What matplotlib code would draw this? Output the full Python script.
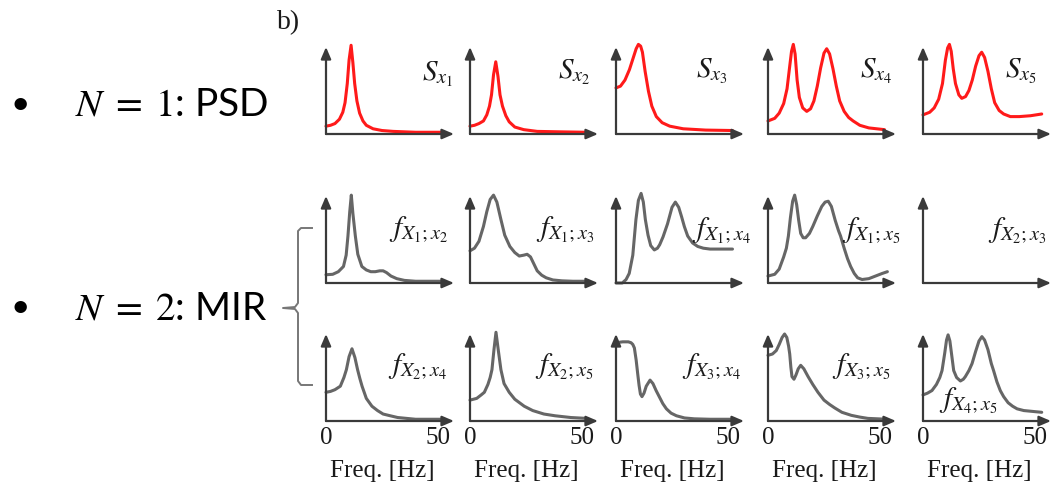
import matplotlib
matplotlib.use('Agg')
import matplotlib.pyplot as plt
from matplotlib.lines import Line2D

W, H, DPI = 1051, 486, 100

# --------------------- curves ---------------------
# x in Hz, y as a fraction of the axis height (1.0 = tip of the y arrow)
s1_hz = [0, 2, 4, 6, 7.5, 8.5, 9.5, 10.3, 11.2, 12.0, 12.8, 13.8, 15, 16.5, 18, 21, 25, 30, 40, 52]
s1_val = [0.09, 0.10, 0.12, 0.17, 0.25, 0.36, 0.58, 0.85, 1.02, 0.82, 0.58, 0.38, 0.24, 0.15, 0.10, 0.06, 0.04, 0.03, 0.02, 0.02]

s2_hz = [0, 2, 4, 6, 7.5, 8.7, 9.6, 10.5, 11.5, 12.5, 13.4, 14.5, 16, 17.5, 20, 24, 30, 40, 52]
s2_val = [0.09, 0.10, 0.12, 0.15, 0.22, 0.32, 0.45, 0.68, 0.83, 0.66, 0.45, 0.32, 0.21, 0.14, 0.08, 0.05, 0.03, 0.025, 0.02]

s3_hz = [0, 2, 4, 6, 8, 9, 10, 11, 11.8, 13, 14.5, 16, 18, 20.6, 24, 30, 40, 52]
s3_val = [0.53, 0.55, 0.62, 0.74, 0.90, 0.98, 1.03, 1.01, 0.94, 0.72, 0.49, 0.32, 0.20, 0.13, 0.09, 0.06, 0.045, 0.04]

s4_hz = [0, 3, 5, 7, 8.5, 9.7, 10.5, 11.3, 12.1, 13, 14, 15.5, 17.3, 19, 20.5, 22, 23.5, 25, 26.2,
         27.5, 29, 30.5, 32, 34, 36, 38, 41, 45, 52]
s4_val = [0.15, 0.18, 0.24, 0.35, 0.52, 0.78, 0.95, 1.03, 0.92, 0.62, 0.42, 0.30, 0.26, 0.29, 0.38, 0.55,
          0.76, 0.93, 0.98, 0.92, 0.75, 0.55, 0.38, 0.26, 0.19, 0.15, 0.10, 0.07, 0.05]

s5_hz = [0, 3, 5, 7, 8.7, 10, 11, 11.8, 12.6, 13.5, 14.5, 16, 17.3, 19, 20.5, 22, 23.5, 25, 26.2,
         27.5, 29, 30.5, 32, 34, 36, 39, 43, 48, 53]
s5_val = [0.22, 0.25, 0.30, 0.40, 0.58, 0.85, 0.99, 1.03, 0.95, 0.75, 0.58, 0.45, 0.41, 0.43, 0.50, 0.62,
          0.78, 0.90, 0.94, 0.88, 0.72, 0.52, 0.36, 0.27, 0.23, 0.20, 0.20, 0.21, 0.23]

f12_hz = [0, 3, 5.5, 7.8, 9, 9.8, 10.6, 11.3, 12, 13.1, 14.2, 16, 18, 20, 22, 24, 25.5, 27, 29, 31.6,
          35, 40, 46, 52]
f12_val = [0.095, 0.10, 0.13, 0.19, 0.32, 0.54, 0.82, 1.01, 0.80, 0.54, 0.33, 0.19, 0.15, 0.13, 0.13,
           0.14, 0.14, 0.12, 0.08, 0.05, 0.03, 0.02, 0.02, 0.02]

f13_hz = [0, 2, 4, 6, 7.5, 9, 10.5, 12, 13.8, 15.5, 17.8, 20, 22, 24, 25.5, 27, 28.5, 30, 32, 34, 37,
          41, 46, 53]
f13_val = [0.37, 0.40, 0.48, 0.65, 0.82, 0.96, 1.01, 0.93, 0.73, 0.55, 0.42, 0.35, 0.31, 0.32, 0.33,
           0.30, 0.22, 0.14, 0.09, 0.06, 0.035, 0.025, 0.02, 0.02]

f14_hz = [0, 2.8, 4.5, 5.9, 7.5, 8.9, 10, 11.2, 12.2, 13.1, 14.3, 15.5, 17.1, 18.5, 19.5, 21, 23, 25,
          26.5, 28, 29.3, 30.5, 32, 34.2, 36.5, 39, 42, 46, 52]
f14_val = [0, 0, 0.04, 0.11, 0.32, 0.73, 0.95, 1.03, 0.93, 0.73, 0.55, 0.43, 0.38, 0.40, 0.44, 0.53,
           0.68, 0.87, 0.93, 0.87, 0.76, 0.65, 0.54, 0.46, 0.42, 0.40, 0.39, 0.39, 0.39]

f15_hz = [0, 3, 5, 7, 8.2, 9.1, 10, 11, 11.9, 12.8, 13.7, 14.6, 15.7, 16.8, 18.5, 20, 22, 24, 25.5,
          26.9, 28.3, 30, 31.5, 32.4, 34, 35.5, 36.9, 38.5, 40, 42, 45, 48, 51, 53.3]
f15_val = [0.08, 0.10, 0.16, 0.30, 0.40, 0.54, 0.75, 0.94, 1.01, 0.90, 0.72, 0.57, 0.52, 0.52, 0.57,
           0.65, 0.77, 0.88, 0.93, 0.94, 0.88, 0.72, 0.60, 0.54, 0.40, 0.28, 0.19, 0.11, 0.06, 0.04,
           0.05, 0.08, 0.11, 0.13]

f23_hz = []
f23_val = []

f24_hz = [0, 2, 4, 6.4, 8, 9.1, 10.3, 11.6, 12.9, 14.1, 15.1, 16.1, 18, 20.5, 23, 25.5, 28.7, 32, 36,
          40, 46, 53]
f24_val = [0.33, 0.34, 0.36, 0.40, 0.50, 0.59, 0.74, 0.83, 0.73, 0.59, 0.49, 0.40, 0.26, 0.17, 0.12,
           0.08, 0.06, 0.04, 0.03, 0.02, 0.02, 0.02]

f25_hz = [0, 3, 5, 6.4, 8, 9, 9.8, 10.7, 11.6, 12.6, 13.8, 15.2, 17.5, 20, 24.2, 28, 33, 38, 45, 52]
f25_val = [0.24, 0.26, 0.30, 0.33, 0.42, 0.50, 0.59, 0.82, 1.02, 0.82, 0.59, 0.43, 0.33, 0.25, 0.17,
           0.12, 0.08, 0.06, 0.04, 0.03]

f34_hz = [0, 3, 5.5, 6.7, 7.5, 8.2, 9, 9.7, 10.3, 10.9, 11.6, 12.5, 13.5, 15.2, 16.5, 17.9, 19.5, 20.9,
          22.5, 24.6, 27, 30.6, 35, 42, 53]
f34_val = [0.90, 0.91, 0.91, 0.90, 0.88, 0.84, 0.70, 0.54, 0.41, 0.31, 0.28, 0.32, 0.40, 0.47, 0.43,
           0.35, 0.27, 0.20, 0.14, 0.09, 0.06, 0.035, 0.025, 0.02, 0.02]

f35_hz = [0, 2, 3.7, 5, 6.3, 7.4, 8.4, 9.2, 9.7, 10.2, 10.7, 11.6, 12.5, 13.5, 14.6, 16, 17.9, 20,
          22.3, 25, 27.5, 29.8, 33, 37.2, 41, 44.6, 49, 53]
f35_val = [0.755, 0.77, 0.81, 0.88, 0.96, 1.0, 0.96, 0.86, 0.77, 0.62, 0.51, 0.48, 0.53, 0.60, 0.64,
           0.60, 0.51, 0.42, 0.33, 0.24, 0.19, 0.15, 0.10, 0.065, 0.045, 0.03, 0.025, 0.02]

f45_hz = [0, 2, 4, 6, 7.5, 8.5, 9.7, 10.5, 11.2, 12, 12.8, 13.7, 15, 16.7, 18, 18.9, 20.5, 21.9, 23.5,
          25, 26.3, 27.5, 29, 30.5, 31.5, 33, 34.5, 36, 38, 40, 42, 45, 49, 53]
f45_val = [0.30, 0.32, 0.35, 0.42, 0.50, 0.58, 0.78, 0.93, 0.99, 0.92, 0.76, 0.58, 0.50, 0.46, 0.48,
           0.51, 0.58, 0.66, 0.80, 0.92, 0.97, 0.93, 0.82, 0.66, 0.58, 0.45, 0.35, 0.28, 0.21, 0.17,
           0.14, 0.12, 0.11, 0.10]

panel_labels = [
    [r'$S_{x_1}$', r'$S_{x_2}$', r'$S_{x_3}$', r'$S_{x_4}$', r'$S_{x_5}$'],
    [r'$f_{X_1;x_2}$', r'$f_{X_1;x_3}$', r'$f_{X_1;x_4}$', r'$f_{X_1;x_5}$', r'$f_{X_2;x_3}$'],
    [r'$f_{X_2;x_4}$', r'$f_{X_2;x_5}$', r'$f_{X_3;x_4}$', r'$f_{X_3;x_5}$', r'$f_{X_4;x_5}$'],
]
curves = [
    [(s1_hz, s1_val), (s2_hz, s2_val), (s3_hz, s3_val), (s4_hz, s4_val), (s5_hz, s5_val)],
    [(f12_hz, f12_val), (f13_hz, f13_val), (f14_hz, f14_val), (f15_hz, f15_val), (f23_hz, f23_val)],
    [(f24_hz, f24_val), (f25_hz, f25_val), (f34_hz, f34_val), (f35_hz, f35_val), (f45_hz, f45_val)],
]
tick_hz = [0, 50]
tick_labels = ['0', '50']
xlabel = 'Freq. [Hz]'
bullet_texts = [r'$N\;=\;1$: PSD', r'$N\;=\;2$: MIR']

# --------------------- layout (pixels of the 1051x486 picture) ---------------------
col_x0 = [326, 470, 616, 768, 923]
row_y0 = [134, 283, 421]
AX_W, AX_H = 128, 87
PX_PER_HZ = 2.24
# label anchor (right edge in Hz, centre as fraction of height)
label_pos = [
    [(57.0, 0.69), (53.6, 0.71), (50.0, 0.72), (55.4, 0.72), (51.0, 0.72)],
    [(54.5, 0.61), (55.5, 0.61), (60.4, 0.60), (59.4, 0.60), (55.2, 0.60)],
    [(54.2, 0.62), (55.5, 0.62), (55.8, 0.62), (55.0, 0.62), (33.5, 0.23)],
]
row_colors = ['#ff1a1a', '#666666', '#666666']
AXIS_COLOR = '#3a3a3a'

plt.rcParams['mathtext.fontset'] = 'stix'
plt.rcParams['font.family'] = ['Liberation Serif', 'DejaVu Serif']

fig = plt.figure(figsize=(W / DPI, H / DPI), dpi=DPI)


def add_panel(px, py):
    ax = fig.add_axes([px / W, 1 - py / H, AX_W / W, AX_H / H])
    ax.set_xlim(0, AX_W / PX_PER_HZ)
    ax.set_ylim(0, 1)
    ax.axis('off')
    return ax


for r, y0 in enumerate(row_y0):
    for c, x0 in enumerate(col_x0):
        ax = add_panel(x0, y0)
        xmax = AX_W / PX_PER_HZ
        arrow = dict(arrowstyle='-|>,head_length=0.7,head_width=0.3', color=AXIS_COLOR,
                     lw=1.6, shrinkA=0, shrinkB=0)
        ax.annotate('', xy=(xmax, 0), xytext=(0, 0), arrowprops=arrow, annotation_clip=False)
        ax.annotate('', xy=(0, 1), xytext=(0, 0), arrowprops=arrow, annotation_clip=False)
        hz, val = curves[r][c]
        if hz:
            ax.plot(hz, val, color=row_colors[r], lw=2.2, clip_on=False,
                    solid_capstyle='round', solid_joinstyle='round')
        lx, ly = label_pos[r][c]
        ax.text(lx, ly, panel_labels[r][c], ha='right', va='center', fontsize=21,
                color='#1a1a1a')
        if r == len(row_y0) - 1:
            for t, lab in zip(tick_hz, tick_labels):
                ax.text(t, -0.2, lab, ha='center', va='center', fontsize=18, color='#1a1a1a')
            ax.text(25.2, -0.57, xlabel, ha='center', va='center', fontsize=18, color='#1a1a1a')

# "b)" tag
fig.text(277 / W, 1 - 23 / H, 'b)', ha='left', va='center', fontsize=20, color='#1a1a1a')

# bullets on the left
for txt, py in zip(bullet_texts, [105, 308]):
    fig.text(20 / W, 1 - py / H, '\u2022', ha='center', va='center', fontsize=24,
             family=['Lato', 'DejaVu Sans'], color='black')
    fig.text(75 / W, 1 - py / H, txt, ha='left', va='center', fontsize=28,
             family=['Lato', 'DejaVu Sans'], color='black')

# bracket joining the two MIR rows
bx = [312, 301, 298, 298, 295, 283, 295, 298, 298, 301, 312]
by = [228, 228, 231, 303, 307, 308, 309, 313, 381, 385, 385]
fig.add_artist(Line2D([v / W for v in bx], [1 - v / H for v in by], color='#777777', lw=1.4))

fig.savefig('out.png', dpi=DPI)
